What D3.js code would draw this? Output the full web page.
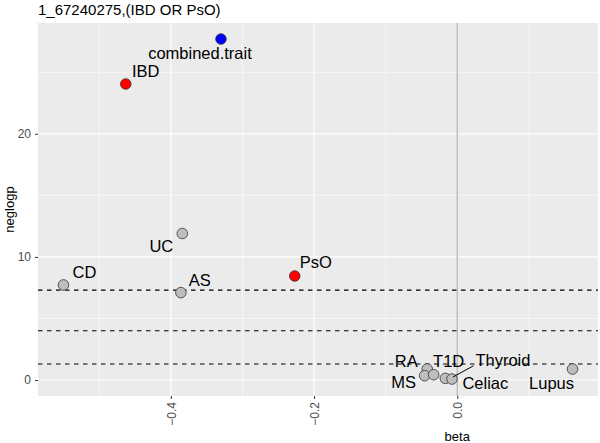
<!DOCTYPE html>
<html>
<head>
<meta charset="utf-8">
<script src="https://cdn.jsdelivr.net/npm/d3@7"></script>
<style>
  body { margin: 0; background: #fff; }
  text { font-family: "Liberation Sans", Arial, sans-serif; }
</style>
</head>
<body>
<svg id="chart" width="600" height="443"></svg>
<script>
// data
const traits  = ['combined.trait', 'IBD', 'UC', 'CD', 'AS', 'PsO', 'RA', 'MS', 'T1D', 'Celiac', 'Thyroid', 'Lupus'];
const betas   = [-0.330, -0.463, -0.384, -0.550, -0.386, -0.227, -0.042, -0.0455, -0.033, -0.0167, -0.0074, 0.161];
const neglogp = [27.7, 24.05, 11.9, 7.72, 7.1, 8.45, 0.89, 0.35, 0.43, 0.13, 0.08, 0.89];
const groups  = ['combined', 'focal', 'other', 'other', 'other', 'focal', 'other', 'other', 'other', 'other', 'other', 'other'];
const thresholds = [7.3, 4, 1.3];
const xTicks = [-0.4, -0.2, 0.0];
const yTicks = [0, 10, 20];
const title = '1_67240275,(IBD OR PsO)';

// label placement (what ggrepel ended up doing), in pixels from the point
const labelNudge = {
  'combined.trait': [-21, 14], 'IBD': [20, -13], 'UC': [-21, 13], 'CD': [21, -13],
  'AS': [19, -12], 'PsO': [21, -14], 'RA': [-21, -8], 'MS': [-21, 7],
  'T1D': [15, -14], 'Celiac': [40, 5], 'Thyroid': [51, -19], 'Lupus': [-21, 14]
};
const withSegment = ['Thyroid'];

const FILL = { combined: '#0000ff', focal: '#ff0000', other: '#bebebe' };
const PANEL = '#ebebeb';

const points = traits.map((t, i) => ({ name: t, beta: betas[i], p: neglogp[i], group: groups[i] }));

const svg = d3.select('#chart');
const margin = { top: 23, right: 2, bottom: 47, left: 38 };
const width = +svg.attr('width') - margin.left - margin.right;
const height = +svg.attr('height') - margin.top - margin.bottom;

const xExt = d3.extent(betas), yExt = d3.extent(neglogp);
const xPad = (xExt[1] - xExt[0]) * 0.05;
const x = d3.scaleLinear().domain([xExt[0] - xPad, xExt[1] + xPad]).range([0, width]);
const y = d3.scaleLinear().domain([Math.min(yExt[0], 0) - 1.3, yExt[1] + 1.3]).range([height, 0]);

svg.append('text')
  .attr('x', margin.left).attr('y', 15)
  .attr('font-size', '15px').attr('fill', '#000')
  .text(title);

const g = svg.append('g').attr('transform', `translate(${margin.left},${margin.top})`);

g.append('rect').attr('width', width).attr('height', height).attr('fill', PANEL);

// minor grid
const xMinor = [-0.5, -0.3, -0.1, 0.1];
const yMinor = [5, 15, 25];
g.selectAll('.xminor').data(xMinor).enter().append('line')
  .attr('x1', d => x(d)).attr('x2', d => x(d)).attr('y1', 0).attr('y2', height)
  .attr('stroke', '#fff').attr('stroke-width', 0.6);
g.selectAll('.yminor').data(yMinor).enter().append('line')
  .attr('y1', d => y(d)).attr('y2', d => y(d)).attr('x1', 0).attr('x2', width)
  .attr('stroke', '#fff').attr('stroke-width', 0.6);
// major grid
g.selectAll('.xmajor').data(xTicks).enter().append('line')
  .attr('x1', d => x(d)).attr('x2', d => x(d)).attr('y1', 0).attr('y2', height)
  .attr('stroke', '#fff').attr('stroke-width', 1.2);
g.selectAll('.ymajor').data(yTicks).enter().append('line')
  .attr('y1', d => y(d)).attr('y2', d => y(d)).attr('x1', 0).attr('x2', width)
  .attr('stroke', '#fff').attr('stroke-width', 1.2);

// reference lines
g.append('line')
  .attr('x1', x(0)).attr('x2', x(0)).attr('y1', 0).attr('y2', height)
  .attr('stroke', '#bdbdbd').attr('stroke-width', 1.5);
g.selectAll('.thr').data(thresholds).enter().append('line')
  .attr('y1', d => y(d)).attr('y2', d => y(d)).attr('x1', 0).attr('x2', width)
  .attr('stroke', '#000').attr('stroke-width', 1.1).attr('stroke-dasharray', '4.5,4.5');

// points
g.selectAll('.pt').data(points).enter().append('circle')
  .attr('cx', d => x(d.beta)).attr('cy', d => y(d.p)).attr('r', 5.3)
  .attr('fill', d => FILL[d.group]).attr('stroke', '#333').attr('stroke-width', 0.8);

// labels
const labels = g.selectAll('.lbl').data(points).enter().append('text')
  .attr('x', d => x(d.beta) + labelNudge[d.name][0])
  .attr('y', d => y(d.p) + labelNudge[d.name][1] + 5.8)
  .attr('text-anchor', 'middle').attr('font-size', '16.5px').attr('fill', '#000')
  .text(d => d.name);

labels.filter(d => withSegment.includes(d.name)).each(function (d) {
  const b = this.getBBox();
  g.append('line')
    .attr('x1', x(d.beta) + 1).attr('y1', y(d.p) - 2)
    .attr('x2', b.x - 2).attr('y2', b.y + b.height - 3)
    .attr('stroke', '#000').attr('stroke-width', 1);
});

// axes
const xAxis = g.append('g').attr('transform', `translate(0,${height})`)
  .call(d3.axisBottom(x).tickValues(xTicks).tickSize(3).tickFormat(d3.format('.1f')));
xAxis.select('.domain').remove();
xAxis.selectAll('line').attr('stroke', '#333');
xAxis.selectAll('text')
  .attr('font-size', '12px').attr('fill', '#4d4d4d')
  .attr('transform', 'rotate(-90)')
  .attr('text-anchor', 'end').attr('x', -6).attr('y', 0).attr('dy', '0.35em');

const yAxis = g.append('g')
  .call(d3.axisLeft(y).tickValues(yTicks).tickSize(3));
yAxis.select('.domain').remove();
yAxis.selectAll('line').attr('stroke', '#333');
yAxis.selectAll('text').attr('font-size', '12px').attr('fill', '#4d4d4d').attr('x', -7);

g.append('text')
  .attr('x', x(0)).attr('y', height + 45)
  .attr('text-anchor', 'middle').attr('font-size', '13px').attr('fill', '#000')
  .text('beta');

g.append('text')
  .attr('transform', `translate(${-24},${height / 2}) rotate(-90)`)
  .attr('text-anchor', 'middle').attr('font-size', '13px').attr('fill', '#000')
  .text('neglogp');
</script>
</body>
</html>
